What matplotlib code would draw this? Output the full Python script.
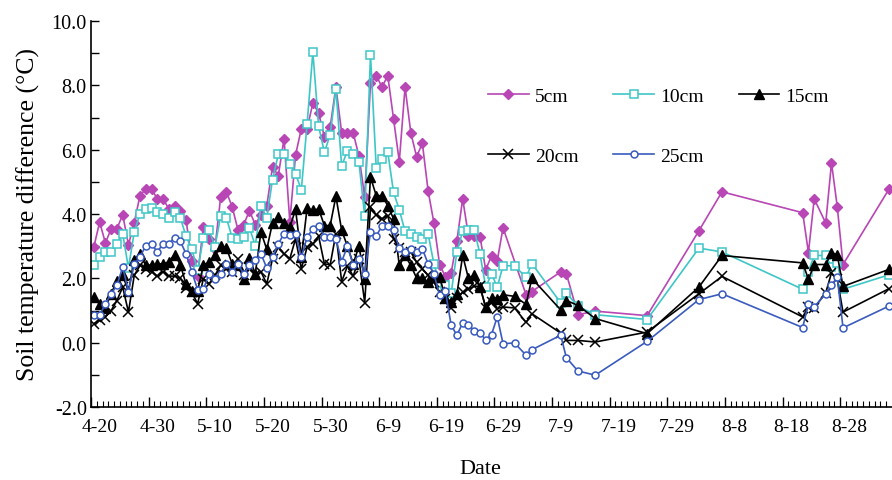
import numpy as np
import matplotlib
matplotlib.use('Agg')
from matplotlib import pyplot as plt
from matplotlib.transforms import ScaledTranslation

plt.rcParams['font.family'] = ['Liberation Serif', 'DejaVu Serif']

# days counted from 4-20
days_dense = list(range(0, 72))
days_sparse = [73, 75, 76, 81, 82, 84, 87, 96, 105, 109, 123, 124, 125, 127, 128, 129, 130, 138]

cm5 = [2.98, 3.75, 3.10, 3.54, 3.54, 3.98, 3.04, 3.73, 4.57, 4.78, 4.78, 4.47, 4.47, 4.16, 4.25, 4.10,
       3.80, 2.55, 2.08, 3.60, 3.23, 2.92, 4.53, 4.69, 4.22, 3.51, 3.67, 4.10, 3.67, 3.98, 4.25, 5.47,
       5.19, 6.34, 3.76, 5.84, 6.65, 6.65, 7.45, 7.14, 6.40, 6.70, 7.95, 6.52, 6.52, 6.52, 5.80, 4.53,
       8.07, 8.30, 7.95, 8.30, 6.96, 5.63, 7.95, 6.52, 5.78, 6.20, 4.72, 3.73, 2.42, 2.05, 2.17, 3.17,
       4.47, 3.32, 3.32, 3.29, 2.27, 2.70, 2.55, 3.57,
       np.nan, 1.49, 1.59, 2.20, 2.14, 0.87, 0.98, 0.84, 3.48, 4.69, 4.04, 2.80, 4.47, 3.72, 5.59, 4.23,
       2.43, 4.78]
cm10 = [2.40, 2.66, 2.82, 2.82, 3.07, 3.39, 2.32, 3.44, 4.00, 4.14, 4.19, 4.06, 4.00, 3.88, 4.06, 3.88,
        3.31, 2.90, 2.25, 3.26, 3.51, 2.97, 3.93, 3.88, 3.26, 3.21, 3.28, 3.57, 3.02, 4.25, 3.88, 5.07,
        5.85, 5.85, 5.56, 5.25, 4.75, 6.80, 9.03, 6.73, 5.92, 6.46, 7.89, 5.49, 5.97, 5.87, 5.61, 3.93,
        8.95, 5.42, 5.71, 5.92, 4.68, 4.13, 3.46, 3.39, 3.28, 3.21, 3.39, 2.45, 1.85, 1.79, 1.53, 2.83,
        3.46, 3.51, 3.51, 2.76, 1.73, 2.14, 1.73, 2.39,
        2.39, 2.03, 2.46, 1.24, 1.54, 1.13, 0.87, 0.72, 2.94, 2.82, 1.66, 2.21, 2.71, 2.71, 2.35, 2.48,
        1.66, 2.11]
cm15 = [1.42, 1.19, 1.09, 1.52, 1.93, 2.09, 1.60, 2.56, 2.76, 2.40, 2.40, 2.45, 2.45, 2.51, 2.74, 2.43,
        1.81, 1.60, 1.62, 2.40, 2.51, 2.71, 3.02, 2.94, 2.45, 2.43, 1.99, 2.64, 2.14, 3.44, 2.90, 3.73,
        3.90, 3.72, 3.59, 4.14, 2.66, 4.18, 4.11, 4.16, 3.64, 3.64, 4.55, 3.49, 3.00, 2.45, 3.00, 1.99,
        5.15, 4.57, 4.57, 4.26, 3.85, 2.40, 2.71, 2.40, 2.01, 2.01, 1.88, 2.04, 2.04, 1.40, 1.27, 1.52,
        2.71, 2.00, 2.10, 1.73, 1.10, 1.38, 1.37, 1.49,
        1.44, 1.19, 2.00, 1.02, 1.31, 1.16, 0.75, 0.28, 1.73, 2.71, 2.48, 1.97, 2.43, 2.43, 2.80, 2.73,
        1.75, 2.28]
cm20 = [0.59, 0.69, 0.80, 1.00, 1.31, 1.73, 0.95, 2.09, 2.40, 2.30, 2.21, 2.07, 2.21, 2.07, 2.07, 2.01,
        1.70, 1.57, 1.21, 1.99, 1.83, 2.09, 2.40, 2.30, 2.20, 2.61, 2.09, 2.35, 2.09, 2.20, 1.83, 2.61,
        2.97, 2.76, 2.61, 3.23, 2.30, 2.97, 3.07, 3.31, 2.45, 2.42, 3.39, 1.90, 2.38, 2.07, 2.60, 1.24,
        4.21, 3.98, 3.85, 3.95, 3.23, 2.94, 2.82, 2.82, 2.50, 2.30, 2.09, 1.88, 1.57, 1.37, 1.08, 1.40,
        1.57, 1.67, 1.75, 1.76, 1.08, 1.27, 1.06, 1.11,
        1.08, 0.63, 0.90, 0.30, 0.07, 0.07, 0.02, 0.33, 1.52, 2.06, 0.80, 1.11, 1.08, 1.55, 2.17, 1.97,
        0.95, 1.68]
cm25 = [0.85, 0.85, 1.21, 1.52, 1.78, 2.35, 1.59, 2.45, 2.66, 3.02, 3.07, 2.82, 3.07, 3.07, 3.26, 3.15,
        2.76, 2.20, 1.65, 1.66, 2.14, 1.99, 2.14, 2.45, 2.20, 2.45, 2.14, 2.40, 2.56, 2.76, 2.32, 2.66,
        3.07, 3.39, 3.35, 3.39, 2.66, 3.28, 3.54, 3.64, 3.28, 3.28, 3.23, 2.52, 3.00, 2.42, 2.60, 2.14,
        3.44, 3.31, 3.64, 3.64, 3.49, 2.94, 2.82, 2.92, 2.82, 2.92, 2.45, 2.14, 1.47, 1.60, 0.54, 0.23,
        0.62, 0.56, 0.37, 0.30, 0.09, 0.25, 0.80, -0.03,
        -0.01, -0.39, -0.22, 0.23, -0.47, -0.88, -1.01, 0.04, 1.34, 1.52, 0.47, 1.21, 1.11, 1.52, 1.78, 2.04,
        0.46, 1.14]

tick_labels = ['4-20', '4-30', '5-10', '5-20', '5-30', '6-9', '6-19', '6-29', '7-9', '7-19',
               '7-29', '8-8', '8-18', '8-28']

days = np.array(days_dense + days_sparse) + 0.5

fig = plt.figure(figsize=(8.92, 4.81), dpi=100)
ax = fig.add_axes([91/892, 1-408/481, 801/892, 386/481])

series = [
    ('5cm', cm5, dict(color='#B846B4', marker='D', ms=5.5, mfc='#B846B4', mec='#B846B4')),
    ('10cm', cm10, dict(color='#3EC6C6', marker='s', ms=5.5, mfc='white', mec='#3EC6C6', mew=1.1)),
    ('15cm', cm15, dict(color='black', marker='^', ms=7, mfc='black', mec='black')),
    ('20cm', cm20, dict(color='black', marker='x', ms=7, mew=1.1)),
    ('25cm', cm25, dict(color='#3A5BBE', marker='o', ms=5, mfc='white', mec='#3A5BBE', mew=1.1)),
]
handles = {}
for name, vals, st in series:
    v = np.array(vals, dtype=float)
    ok = ~np.isnan(v)
    h, = ax.plot(days[ok], v[ok], lw=1.2, label=name, **st)
    handles[name] = h

ax.set_xlim(0, 139)
ax.set_ylim(-2, 10)
ax.set_yticks(np.arange(-2, 10.1, 2))
ax.set_yticks(np.arange(-2, 10.1, 1), minor=True)
ax.set_yticklabels(['%.1f' % t for t in np.arange(-2, 10.1, 2)])
ax.set_xticks(np.arange(0, 131, 10))
ax.set_xticks(np.arange(0, 139, 1), minor=True)
ax.set_xticklabels(tick_labels)
ax.tick_params(axis='x', which='major', direction='in', length=7, width=1, labelsize=14, pad=8)
ax.tick_params(axis='x', which='minor', direction='in', length=4, width=0.8)
ax.tick_params(axis='y', which='both', direction='in', length=6, width=1, labelsize=14.5, pad=3)
off = ScaledTranslation(9/100, 0, fig.dpi_scale_trans)
for lab in ax.get_xticklabels():
    lab.set_transform(lab.get_transform() + off)

ax.spines['top'].set_visible(False)
ax.spines['right'].set_visible(False)
ax.spines['left'].set_linewidth(1.2)
ax.spines['bottom'].set_linewidth(1.2)

ax.set_xlabel('Date', fontsize=16, labelpad=17)
ax.xaxis.label.set_x((480 - 91) / 801)
ax.set_ylabel('Soil temperature difference (°C)', fontsize=18.5, labelpad=8)

order = ['5cm', '20cm', '10cm', '25cm', '15cm']
ax.legend([handles[k] for k in order], order, ncol=3, frameon=False, fontsize=14,
          loc='upper left', bbox_to_anchor=(488/892, 1-88/481), bbox_transform=fig.transFigure,
          borderaxespad=0, borderpad=0, handlelength=2.1, handletextpad=0.3,
          columnspacing=1.8, labelspacing=2.2)

fig.savefig('out.png', dpi=100)
